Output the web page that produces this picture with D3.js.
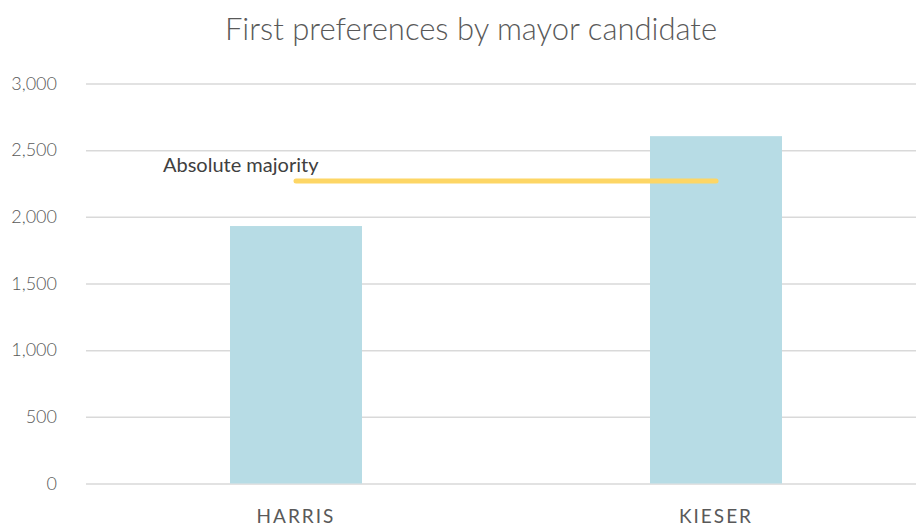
<!DOCTYPE html>
<html><head><meta charset="utf-8">
<script src="https://cdn.jsdelivr.net/npm/d3@7"></script>
<style>body{margin:0;background:#fff}svg{display:block}</style>
</head><body>
<script>
const categories = ["HARRIS", "KIESER"];
const votes = [1931, 2605];
const majority = [2269, 2269];
const yTicks = [0, 500, 1000, 1500, 2000, 2500, 3000];
const title = "First preferences by mayor candidate";
const majorityLabel = "Absolute majority";

const W = 916, H = 529;
const svg = d3.select("body").append("svg").attr("width", W).attr("height", H);
const y = d3.scaleLinear().domain([0, 3000]).range([483.5, 83.5]);
const x = d3.scaleBand().domain(categories).range([86, 926]).paddingInner(0).paddingOuter(0);
const barW = 132;
const font = "Lato, 'Open Sans', sans-serif";

svg.append("text").attr("x", 471).attr("y", 40).attr("text-anchor", "middle")
  .attr("font-family", font).attr("font-weight", 300).attr("font-size", 31).attr("fill", "#595959").text(title);

const yAxis = svg.append("g").attr("transform", "translate(86,0)")
  .call(d3.axisLeft(y).tickValues(yTicks).tickSize(-830).tickPadding(29).tickFormat(d3.format(",")));
yAxis.select(".domain").remove();
yAxis.selectAll(".tick line").attr("stroke", "#d9d9d9").attr("stroke-width", 1.5);
yAxis.selectAll(".tick text").attr("font-family", font).attr("font-weight", 300).attr("font-size", 18).attr("fill", "#595959");

svg.append("g").selectAll("rect").data(votes).join("rect")
  .attr("x", (d, i) => x(categories[i]) + x.bandwidth() / 2 - barW / 2)
  .attr("width", barW)
  .attr("y", d => y(d)).attr("height", d => y(0) - y(d))
  .attr("fill", "#b7dce5");

const line = d3.line().x((d, i) => x(categories[i]) + x.bandwidth() / 2).y(d => y(d));
svg.append("path").datum(majority).attr("d", line).attr("fill", "none")
  .attr("stroke", "#fdd665").attr("stroke-width", 5).attr("stroke-linecap", "round");

svg.append("text").attr("x", 163).attr("y", 172).attr("font-family", font).attr("font-size", 20)
  .attr("fill", "#404040").text(majorityLabel);

svg.append("g").selectAll("text").data(categories).join("text")
  .attr("x", d => x(d) + x.bandwidth() / 2).attr("y", 523).attr("text-anchor", "middle")
  .attr("font-family", font).attr("font-size", 19).attr("letter-spacing", 2).attr("fill", "#595959").text(d => d);
</script>
</body></html>
